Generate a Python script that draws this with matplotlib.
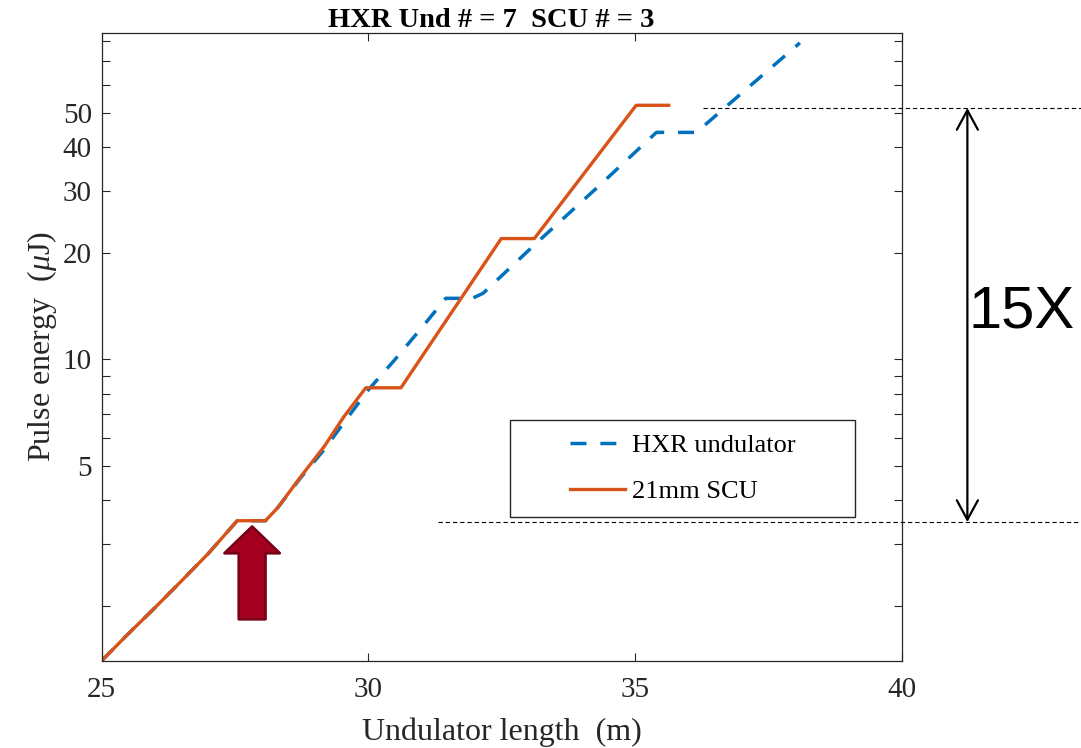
import numpy as np
import matplotlib
matplotlib.use('Agg')
from matplotlib import pyplot as plt
from matplotlib.patches import Rectangle
from matplotlib.ticker import FixedLocator, NullFormatter

# %%
# Data: pulse energy (uJ) vs undulator length (m)
scu_z = [25.0, 25.5, 26.0, 26.5, 27.0, 27.54, 28.07, 28.3, 28.73, 29.17, 29.54, 29.95,
         30.61, 32.49, 33.11, 35.02, 35.63]
scu_E = [1.40, 1.67, 1.98, 2.36, 2.82, 3.49, 3.49, 3.80, 4.65, 5.66, 6.88, 8.31,
         8.31, 22.0, 22.0, 52.5, 52.5]

hxr_z = [25.0, 25.5, 26.0, 26.5, 27.0, 27.54, 28.07, 28.3, 28.73, 29.17, 29.55, 30.0,
         30.5, 31.0, 31.45, 31.95, 32.15, 33.14, 34.37, 35.4, 36.15, 37.06, 38.09]
hxr_E = [1.40, 1.67, 1.98, 2.36, 2.82, 3.49, 3.49, 3.80, 4.62, 5.55, 6.65, 8.2,
         10.0, 12.3, 14.9, 14.9, 15.4, 21.3, 31.5, 44.0, 44.0, 57.9, 78.9]

ref_levels = [3.46, 51.6]          # dashed guide lines, ratio ~15X
ref_start = [31.3, 36.27]          # where each guide line starts (m)

xticks = [25, 30, 35, 40]
yticks = [5, 10, 20, 30, 40, 50]
yminor = [2, 3, 4, 6, 7, 8, 9, 60, 70, 80]

# %%
from matplotlib import rcParams
rcParams.update({
    "font.family": "serif",
    "font.serif": ["Liberation Serif", "DejaVu Serif"],
    "mathtext.fontset": "custom",
    "mathtext.rm": "Liberation Serif",
    "mathtext.it": "Liberation Serif:italic",
    "font.size": 21})

axc = '#262626'
blue = '#0072BD'
orange = '#D95319'

fig = plt.figure(figsize=(10.81, 7.48), dpi=100)
ax = fig.add_axes([0.0941, 0.1167, 0.7401, 0.8388])

ax.plot(hxr_z, hxr_E, color=blue, lw=2.5, dashes=(4.6, 4.0), label='HXR undulator')
ax.plot(scu_z, scu_E, color=orange, lw=2.4, label='21mm SCU')

ax.set_yscale('log')
ax.set_xlim(25, 40)
ax.set_ylim(1.4, 84)
ax.set_xticks(xticks)
ax.set_xticklabels([str(t) for t in xticks])
ax.yaxis.set_major_locator(FixedLocator(yticks))
ax.set_yticklabels([str(t) for t in yticks])
ax.yaxis.set_minor_locator(FixedLocator(yminor))
ax.yaxis.set_minor_formatter(NullFormatter())
ax.tick_params(which='both', direction='in', length=6, width=0.8, color=axc,
               labelcolor=axc, top=True, right=True, labelsize=21)
ax.tick_params(axis='x', pad=12)
ax.tick_params(axis='y', pad=7)
for s in ax.spines.values():
    s.set_color(axc)
    s.set_linewidth(0.9)

ax.set_title('HXR Und # = 7  SCU # = 3', fontsize=20.5, fontweight='bold', pad=1.5, x=0.487)
ax.set_xlabel('Undulator length  (m)', fontsize=23, color=axc, labelpad=10)
ax.set_ylabel(r'Pulse energy  ($\mu$J)', fontsize=23, color=axc, labelpad=3)

# legend box
ax.add_patch(Rectangle((0.510, 0.2295), 0.4316, 0.1542, transform=ax.transAxes,
                       fc='white', ec=axc, lw=1.0, zorder=5))
leg = ax.legend(loc='center left', bbox_to_anchor=(0.585, 0.307), frameon=False,
                fontsize=19, handlelength=2.1, handletextpad=0.25, labelspacing=0.85,
                borderpad=0, borderaxespad=0)
leg.set_zorder(6)

# guide lines and the 15X arrow
for lvl, z0 in zip(ref_levels, ref_start):
    ax.plot([z0, 43.5], [lvl, lvl], color='black', lw=0.8, linestyle=(0, (3.9, 2.6)),
            clip_on=False, zorder=4)
ax.annotate('', xy=(41.23, ref_levels[1]), xytext=(41.23, ref_levels[0]),
            annotation_clip=False,
            arrowprops=dict(arrowstyle='<->,head_length=0.7,head_width=0.38',
                            mutation_scale=20, color='black', lw=1.6,
                            shrinkA=0, shrinkB=0))
ax.text(1.083, 0.556, '15X', transform=ax.transAxes, ha='left', va='center',
        fontsize=43, family='Liberation Sans', color='black')

# red arrow marking the SCU start
ax.annotate('', xy=(27.82, 3.36), xytext=(27.82, 1.835),
            arrowprops=dict(arrowstyle='simple,head_length=1.92,head_width=3.98,tail_width=1.92',
                            mutation_scale=10, fc='#A5001F', ec='#7A0018', lw=2.0,
                            shrinkA=0, shrinkB=0))

fig.savefig('out.png', dpi=100)
